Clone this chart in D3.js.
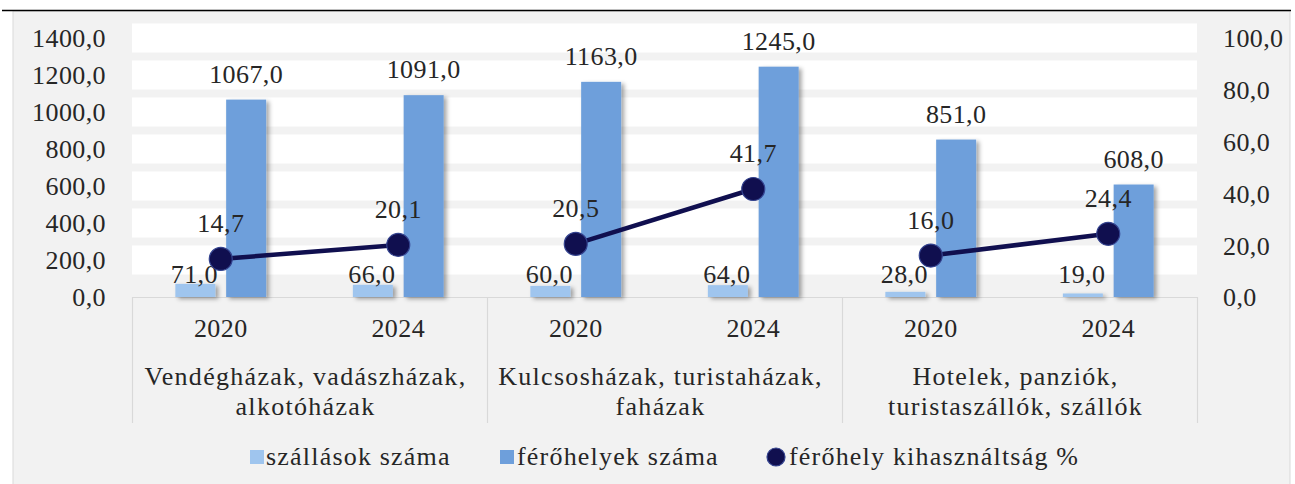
<!DOCTYPE html>
<html>
<head>
<meta charset="utf-8">
<script src="https://cdn.jsdelivr.net/npm/d3@7"></script>
<style>
  html, body { margin: 0; padding: 0; background: #ffffff; }
  svg { display: block; }
  text { font-family: "Liberation Serif", "Times New Roman", serif; fill: #262626; }
</style>
</head>
<body>
<svg id="chart" width="1295" height="484"></svg>
<script>
// Accommodation types, each shown for two years
const groups = ["Vendégházak, vadászházak, alkotóházak",
                "Kulcsosházak, turistaházak, faházak",
                "Hotelek, panziók, turistaszállók, szállók"];
const groupLines = [["Vendégházak, vadászházak,", "alkotóházak"],
                    ["Kulcsosházak, turistaházak,", "faházak"],
                    ["Hotelek, panziók,", "turistaszállók, szállók"]];
const years = ["2020", "2024"];

// Series values, in group order, then year order
const szallasok   = [71, 66, 60, 64, 28, 19];          // number of establishments
const ferohelyek  = [1067, 1091, 1163, 1245, 851, 608]; // number of beds
const kihasznaltsag = [14.7, 20.1, 20.5, 41.7, 16.0, 24.4]; // occupancy %

const leftTicks  = [0, 200, 400, 600, 800, 1000, 1200, 1400];
const rightTicks = [0, 20, 40, 60, 80, 100];
const seriesNames = ["szállások száma", "férőhelyek száma", "férőhely kihasználtság %"];

const colLight = "#9fc5ee";
const colDark  = "#6e9fdb";
const colLine  = "#100f4f";

const fmt = v => v.toFixed(1).replace(".", ",");

const svg = d3.select("#chart");

// drop shadow used by the bars
const defs = svg.append("defs");
const f = defs.append("filter").attr("id", "shadow")
  .attr("x", "-30%").attr("y", "-10%").attr("width", "160%").attr("height", "130%");
f.append("feDropShadow").attr("dx", 3).attr("dy", 2).attr("stdDeviation", 2.2)
  .attr("flood-color", "#000").attr("flood-opacity", 0.35);

// chart frame
svg.append("rect").attr("x", 13).attr("y", 11).attr("width", 1277).attr("height", 480)
  .attr("fill", "#f2f2f2").attr("stroke", "#d9d9d9").attr("stroke-width", 1);
svg.append("line").attr("x1", 2).attr("x2", 1291).attr("y1", 10.5).attr("y2", 10.5)
  .attr("stroke", "#000").attr("stroke-width", 1.5);

// scales
const rows = [];
groups.forEach((g, gi) => years.forEach((yr, yi) => rows.push({g, yr, gi, yi, i: gi * 2 + yi})));

const x0 = d3.scaleBand().domain(groups).range([132, 1197]).paddingInner(0).paddingOuter(0);
const x1 = d3.scaleBand().domain(years).range([0, x0.bandwidth()]);
const cx = r => x0(r.g) + x1(r.yr) + x1.bandwidth() / 2;
const yL = d3.scaleLinear().domain([0, 1400]).range([297, 38]);
const yR = d3.scaleLinear().domain([0, 100]).range([297, 38]);

// wide white gridlines
svg.append("g").selectAll("line").data(leftTicks.filter(t => t > 0)).join("line")
  .attr("x1", 132).attr("x2", 1197)
  .attr("y1", d => yL(d)).attr("y2", d => yL(d))
  .attr("stroke", "#ffffff").attr("stroke-width", 29);

// left axis
const axL = svg.append("g").attr("transform", "translate(106,0)")
  .call(d3.axisLeft(yL).tickValues(leftTicks).tickFormat(fmt).tickSize(0).tickPadding(0));
axL.select(".domain").remove();
axL.selectAll("text").attr("font-size", 26).attr("letter-spacing", 0.4)
  .attr("font-family", "Liberation Serif").attr("fill", "#262626").attr("dy", "0.34em");

// right axis
const axR = svg.append("g").attr("transform", "translate(1223,0)")
  .call(d3.axisRight(yR).tickValues(rightTicks).tickFormat(fmt).tickSize(0).tickPadding(0));
axR.select(".domain").remove();
axR.selectAll("text").attr("font-size", 26).attr("letter-spacing", 0.4)
  .attr("font-family", "Liberation Serif").attr("fill", "#262626").attr("dy", "0.34em");

// category axis box
const cat = svg.append("g");
cat.append("line").attr("x1", 132).attr("x2", 1197).attr("y1", 297.5).attr("y2", 297.5)
  .attr("stroke", "#d9d9d9").attr("stroke-width", 1.2);
const seps = groups.map(g => x0(g)).concat([x0.range()[1]]);
cat.selectAll("line.sep").data(seps).join("line").attr("class", "sep")
  .attr("x1", d => Math.round(d) + 0.5).attr("x2", d => Math.round(d) + 0.5)
  .attr("y1", 297).attr("y2", 423)
  .attr("stroke", "#d9d9d9").attr("stroke-width", 1.2);
cat.selectAll("text.yr").data(rows).join("text").attr("class", "yr")
  .attr("x", d => cx(d)).attr("y", 337).attr("text-anchor", "middle")
  .attr("font-size", 26).attr("letter-spacing", 0.4).text(d => d.yr);
groups.forEach((g, gi) => {
  const t = cat.append("text").attr("text-anchor", "middle").attr("font-size", 26)
    .attr("letter-spacing", 1.3);
  groupLines[gi].forEach((ln, li) => {
    t.append("tspan").attr("x", x0(g) + x0.bandwidth() / 2 - 4).attr("y", 385 + li * 30).text(ln);
  });
});

// bars
const bw = 40, off = 25.4;
const bars = svg.append("g").attr("filter", "url(#shadow)");
bars.selectAll("rect.l").data(rows).join("rect").attr("class", "l")
  .attr("x", d => cx(d) - off - bw / 2).attr("width", bw)
  .attr("y", d => yL(szallasok[d.i])).attr("height", d => yL(0) - yL(szallasok[d.i]))
  .attr("fill", colLight);
bars.selectAll("rect.d").data(rows).join("rect").attr("class", "d")
  .attr("x", d => cx(d) + off - bw / 2).attr("width", bw)
  .attr("y", d => yL(ferohelyek[d.i])).attr("height", d => yL(0) - yL(ferohelyek[d.i]))
  .attr("fill", colDark);

// bar labels
const labels = svg.append("g").attr("font-size", 26).attr("letter-spacing", 0.4)
  .attr("text-anchor", "middle");
labels.selectAll("text.l").data(rows).join("text").attr("class", "l")
  .attr("x", d => cx(d) - off - 1)
  .attr("y", d => Math.min(yL(szallasok[d.i]) - 1, yL(0) - 14))
  .text(d => fmt(szallasok[d.i]));
labels.selectAll("text.d").data(rows).join("text").attr("class", "d")
  .attr("x", d => cx(d) + off)
  .attr("y", d => yL(ferohelyek[d.i]) - 17)
  .text(d => fmt(ferohelyek[d.i]));

// occupancy line, one segment per group
const lineGen = d3.line().x(d => cx(d)).y(d => yR(kihasznaltsag[d.i]));
const lineG = svg.append("g");
groups.forEach(g => {
  lineG.append("path").datum(rows.filter(r => r.g === g))
    .attr("d", lineGen).attr("fill", "none").attr("stroke", colLine).attr("stroke-width", 4.5);
});
lineG.selectAll("circle").data(rows).join("circle")
  .attr("cx", d => cx(d)).attr("cy", d => yR(kihasznaltsag[d.i])).attr("r", 11.5)
  .attr("fill", colLine).attr("stroke", "#34438f").attr("stroke-width", 1.2);
labels.selectAll("text.p").data(rows).join("text").attr("class", "p")
  .attr("x", d => cx(d)).attr("y", d => yR(kihasznaltsag[d.i]) - 27)
  .text(d => fmt(kihasznaltsag[d.i]));

// legend
const leg = svg.append("g").attr("font-size", 26).attr("letter-spacing", 1.2);
leg.append("rect").attr("x", 250).attr("y", 450).attr("width", 14).attr("height", 14).attr("fill", colLight);
leg.append("text").attr("x", 266).attr("y", 465).text(seriesNames[0]);
leg.append("rect").attr("x", 500).attr("y", 450).attr("width", 14).attr("height", 14).attr("fill", colDark);
leg.append("text").attr("x", 517).attr("y", 465).text(seriesNames[1]);
leg.append("circle").attr("cx", 776).attr("cy", 457).attr("r", 9)
  .attr("fill", colLine).attr("stroke", "#34438f").attr("stroke-width", 1.2);
leg.append("text").attr("x", 789).attr("y", 465).text(seriesNames[2]);
</script>
</body>
</html>
